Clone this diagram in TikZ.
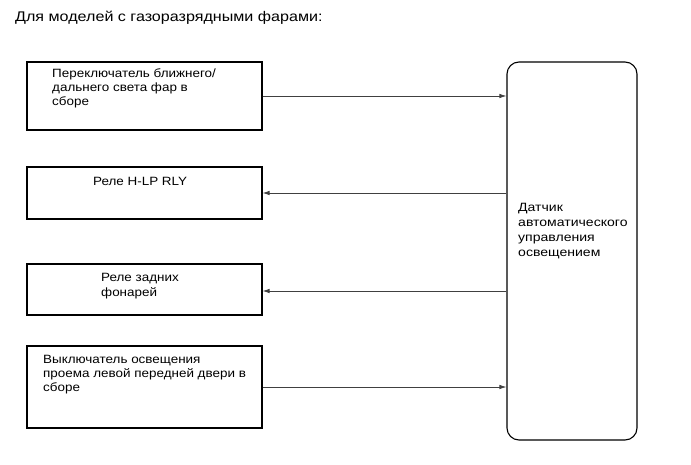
\documentclass[tikz,border=0pt]{standalone}
\usepackage{fontspec}
\setmainfont{Liberation Sans}
\newfontfamily\bodyfont[FakeStretch=1.12]{Liberation Sans}
\newfontfamily\ctlfont[FakeStretch=1.17]{Liberation Sans}
\newfontfamily\titlefont[FakeStretch=1.15]{Liberation Sans}
\usetikzlibrary{arrows.meta}
\begin{document}
\begin{tikzpicture}[x=1pt,y=-1pt,
  box/.style={draw=black,line width=1.1pt,rectangle,inner sep=0pt},
  arr/.style={draw=black!75,line width=0.8pt,-{Latex[length=7pt,width=4.5pt]}},
  txt/.style={anchor=base west,inner sep=0pt,align=left,font=\bodyfont\fontsize{12pt}{14pt}\selectfont},
  ttl/.style={anchor=base west,inner sep=0pt,font=\titlefont\fontsize{14pt}{16pt}\selectfont}]
\useasboundingbox[fill=white] (0,0) rectangle (691,465);
\node[ttl] (title) at (15,22) {Для моделей с газоразрядными фарами:};
\node[box,minimum width=235pt,minimum height=68pt] (b1) at (144.5,96) {};
\node[box,minimum width=235pt,minimum height=52pt] (b2) at (144.5,193) {};
\node[box,minimum width=235pt,minimum height=51pt] (b3) at (144.5,289.5) {};
\node[box,minimum width=235pt,minimum height=82pt] (b4) at (144.5,387) {};
\node[box,rounded corners=12pt,minimum width=130pt,minimum height=378pt] (ctl) at (572,251) {};
% base anchor = baseline of the last line
\node[txt] (t1) at (52,106) {Переключатель ближнего/\\дальнего света фар в\\сборе};
\node[txt] (t2) at (93,186) {Реле H-LP RLY};
\node[txt] (t3) at (101,296) {Реле задних\\фонарей};
\node[txt] (t4) at (43,391) {Выключатель освещения\\проема левой передней двери в\\сборе};
\node[txt,font=\ctlfont\fontsize{12pt}{15.2pt}\selectfont] (t5) at (518,257) {Датчик\\автоматического\\управления\\освещением};
\draw[arr] (b1.east) -- (b1.east -| ctl.west);
\draw[arr] (b2.east -| ctl.west) -- (b2.east);
\draw[arr] (ctl.west |- 0,291) -- (b3.east |- 0,291);
\draw[arr] (b4.east) -- (b4.east -| ctl.west);
\end{tikzpicture}
\end{document}
